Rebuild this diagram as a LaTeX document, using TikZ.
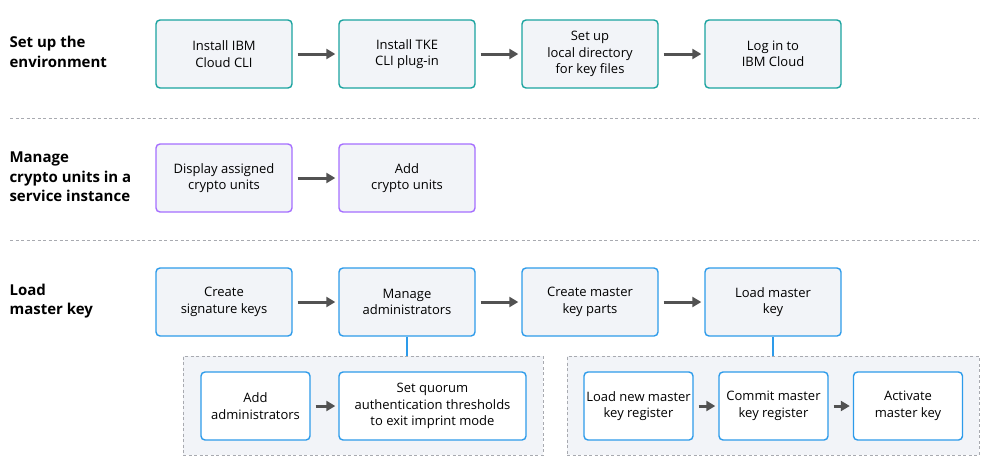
\documentclass[tikz,border=0pt]{standalone}
\usepackage{fontspec}
\setmainfont{Open Sans}
\usetikzlibrary{arrows.meta}
\definecolor{tealline}{HTML}{1AA39F}
\definecolor{purpleline}{HTML}{A56EFF}
\definecolor{blueline}{HTML}{2D9BEA}
\definecolor{boxfill}{HTML}{F2F4F8}
\definecolor{arrowgray}{HTML}{525252}
\definecolor{dotgray}{HTML}{A8AAB0}
\begin{document}
\begin{tikzpicture}[x=1pt,y=-1pt,
    font=\fontsize{13}{16.5}\selectfont,
    stepbox/.style={draw, line width=1.4pt, rounded corners=4pt, fill=boxfill,
      minimum width=136pt, minimum height=68pt, align=center, inner sep=2pt},
    envbox/.style={stepbox, draw=tealline},
    unitbox/.style={stepbox, draw=purpleline},
    keybox/.style={stepbox, draw=blueline},
    subbox/.style={keybox, fill=white, minimum width=109pt},
    group/.style={draw=dotgray, line width=1pt, dash pattern=on 3pt off 2.5pt,
      fill=boxfill, minimum height=99pt},
    phase/.style={anchor=west, align=left, font=\fontsize{15}{19.5}\selectfont\bfseries},
    flow/.style={draw=arrowgray, line width=3pt,
      -{Triangle[length=9pt,width=10pt]}, shorten <=5pt, shorten >=3pt},
    link/.style={draw=blueline, line width=1.4pt}]
  \useasboundingbox (0,0) rectangle (994,472);
  % phases
  \node[phase] (envlabel) at (6,52) {Set up the\\environment};
  \node[phase] (unitlabel) at (6,177) {Manage\\crypto units in a\\service instance};
  \node[phase] (keylabel) at (6,301) {Load\\master key};
  \draw[dotgray, line width=1pt, dash pattern=on 3pt off 2.5pt] (10,118) -- (979,118);
  \draw[dotgray, line width=1pt, dash pattern=on 3pt off 2.5pt] (10,240.5) -- (979,240.5);
  % set up the environment
  \node[envbox] (cli) at (224,54) {Install IBM\\Cloud CLI};
  \node[envbox] (plugin) at (407,54) {Install TKE\\CLI plug-in};
  \node[envbox] (dir) at (590,54) {Set up\\local directory\\for key files};
  \node[envbox] (login) at (773,54) {Log in to\\IBM Cloud};
  \draw[flow] (cli) -- (plugin);
  \draw[flow] (plugin) -- (dir);
  \draw[flow] (dir) -- (login);
  % crypto units
  \node[unitbox] (display) at (224,178) {Display assigned\\crypto units};
  \node[unitbox] (add) at (407,178) {Add\\crypto units};
  \draw[flow] (display) -- (add);
  % load master key
  \node[keybox] (sig) at (224,302) {Create\\signature keys};
  \node[keybox] (admin) at (407,302) {Manage\\administrators};
  \node[keybox] (parts) at (590,302) {Create master\\key parts};
  \node[keybox] (load) at (773,302) {Load master\\key};
  \draw[flow] (sig) -- (admin);
  \draw[flow] (admin) -- (parts);
  \draw[flow] (parts) -- (load);
  % sub steps
  \node[group, minimum width=360pt] (admingroup) at (363,405.5) {};
  \node[group, minimum width=412pt] (loadgroup) at (773,405.5) {};
  \draw[link] (admin.south) -- (admin.south |- admingroup.north);
  \draw[link] (load.south) -- (loadgroup.north);
  \node[subbox] (addadmin) at (255.5,406) {Add\\administrators};
  \node[subbox, minimum width=187pt] (quorum) at (432.5,406) {Set quorum\\authentication thresholds\\to exit imprint mode};
  \node[subbox] (newreg) at (638.5,406) {Load new master\\key register};
  \node[subbox] (commit) at (773.5,406) {Commit master\\key register};
  \node[subbox] (activate) at (908,406) {Activate\\master key};
  \draw[flow] (addadmin) -- (quorum);
  \draw[flow] (newreg) -- (commit);
  \draw[flow] (commit) -- (activate);
\end{tikzpicture}
\end{document}
